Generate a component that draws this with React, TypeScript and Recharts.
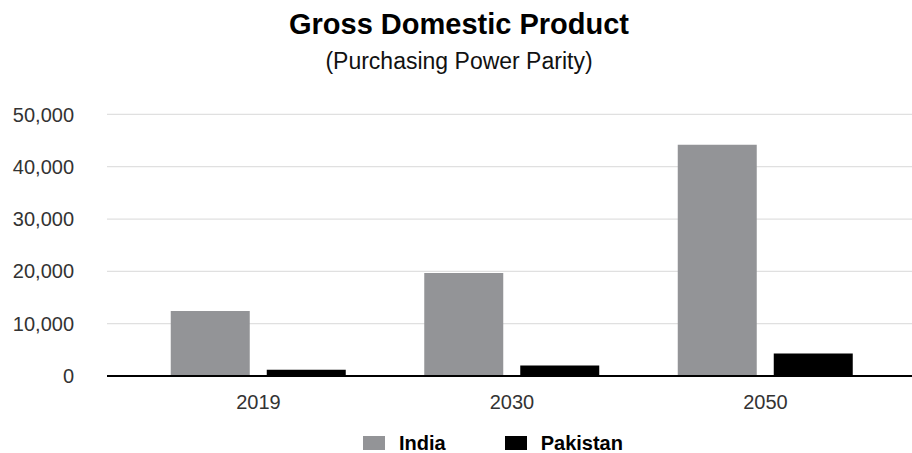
import { BarChart, Bar, XAxis, YAxis, CartesianGrid } from "recharts";

const years = ["2019", "2030", "2050"];
const india = [12400, 19700, 44200];
const pakistan = [1200, 2000, 4300];
const yTicks = [0, 10000, 20000, 30000, 40000, 50000];

const SERIES = [
  { key: "india", label: "India", color: "#939497" },
  { key: "pakistan", label: "Pakistan", color: "#000000" },
];

const FONT = '"Liberation Sans", Arial, Helvetica, sans-serif';

const data = years.map((year, i) => ({
  year,
  india: india[i],
  pakistan: pakistan[i],
}));

export default function App() {
  return (
    <div style={{ position: "absolute", left: 0, top: 0, width: 912, height: 453, fontFamily: FONT }}>
      <div
        style={{
          position: "absolute",
          left: 0,
          width: 918,
          top: 8,
          textAlign: "center",
          fontSize: 29,
          fontWeight: 700,
          color: "#000",
          lineHeight: "32px",
        }}
      >
        Gross Domestic Product
      </div>
      <div
        style={{
          position: "absolute",
          left: 0,
          width: 918,
          top: 48,
          textAlign: "center",
          fontSize: 23,
          color: "#111",
          lineHeight: "26px",
        }}
      >
        (Purchasing Power Parity)
      </div>

      <BarChart
        width={912}
        height={453}
        data={data}
        margin={{ top: 114.4, right: 0, left: 0, bottom: 37 }}
        barSize={79}
        barGap={17}
      >
        <CartesianGrid vertical={false} stroke="#e0e0e0" strokeWidth={1.2} />
        <XAxis
          dataKey="year"
          height={40}
          padding={{ left: 24.75, right: 19.75 }}
          tickLine={false}
          tickSize={0}
          tickMargin={19}
          axisLine={{ stroke: "#000", strokeWidth: 2 }}
          tick={{ fontSize: 20, fill: "#333", fontFamily: FONT }}
        />
        <YAxis
          width={107}
          domain={[0, 50000]}
          ticks={yTicks}
          axisLine={false}
          tickLine={false}
          tickSize={0}
          tickMargin={33}
          tickFormatter={(v: number) => v.toLocaleString("en-US")}
          tick={{ fontSize: 20, fill: "#333", fontFamily: FONT }}
        />
        {SERIES.map((s) => (
          <Bar key={s.key} dataKey={s.key} name={s.label} fill={s.color} isAnimationActive={false} />
        ))}
      </BarChart>

      <div
        style={{
          position: "absolute",
          left: 363,
          top: 432,
          display: "flex",
          alignItems: "center",
          fontSize: 20,
          fontWeight: 700,
          color: "#000",
          lineHeight: "22px",
        }}
      >
        {SERIES.map((s, i) => (
          <div key={s.key} style={{ display: "flex", alignItems: "center", marginRight: i === 0 ? 59 : 0 }}>
            <span style={{ display: "inline-block", width: 22, height: 14, background: s.color, marginRight: 14 }} />
            <span>{s.label}</span>
          </div>
        ))}
      </div>
    </div>
  );
}
